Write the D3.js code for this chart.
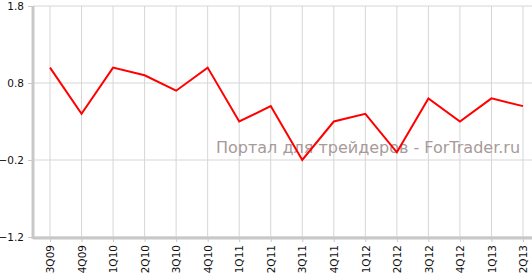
<!DOCTYPE html>
<html>
<head>
<meta charset="utf-8">
<script src="https://cdn.jsdelivr.net/npm/d3@7"></script>
<style>
  body { margin: 0; background: #fff; }
  svg { display: block; }
</style>
</head>
<body>
<div id="chart"></div>
<script>

let quarters = ["3Q09","4Q09","1Q10","2Q10","3Q10","4Q10","1Q11","2Q11","3Q11","4Q11","1Q12","2Q12","3Q12","4Q12","1Q13","2Q13"]

let values = [1.0, 0.4, 1.0, 0.9, 0.7, 1.0, 0.3, 0.5, -0.2, 0.3, 0.4, -0.1, 0.6, 0.3, 0.6, 0.5]

let y_ticks = [1.8, 0.8, -0.2, -1.2]

let watermark = "Портал для трейдеров - ForTrader.ru"

let width = 532, height = 274

let svg = d3.select("#chart").append("svg")
  .attr("width", width)
  .attr("height", height)

let x = d3.scalePoint()
  .domain(quarters)
  .range([50, 523])

let y = d3.scaleLinear()
  .domain([-1.2, 1.8])
  .range([237, 6])

// grid
svg.append("g")
  .selectAll("line")
  .data(quarters)
  .join("line")
  .attr("x1", d => x(d)).attr("x2", d => x(d))
  .attr("y1", y(1.8)).attr("y2", y(-1.2))
  .style("stroke", "#d6d6d6")
  .style("stroke-width", 1)

svg.append("g")
  .selectAll("line")
  .data(y_ticks)
  .join("line")
  .attr("x1", 33).attr("x2", width)
  .attr("y1", d => y(d)).attr("y2", d => y(d))
  .style("stroke", "#d6d6d6")
  .style("stroke-width", 1)

// watermark
svg.append("text")
  .attr("x", 216)
  .attr("y", 153)
  .style("font-family", "DejaVu Sans")
  .style("font-size", "16px")
  .style("fill", "#a79a9a")
  .text(watermark)

// axes
let y_axis = svg.append("g")
  .attr("transform", "translate(33,0)")
  .call(d3.axisLeft(y).tickValues(y_ticks).tickSize(5).tickPadding(4).tickFormat(d3.format(".1f")))

let x_axis = svg.append("g")
  .attr("transform", "translate(0," + (y(-1.2) + 1) + ")")
  .call(d3.axisBottom(x).tickSize(4).tickPadding(3))

x_axis.selectAll("text")
  .attr("transform", "rotate(-90)")
  .attr("x", -7)
  .attr("y", 0)
  .attr("dy", "0.35em")
  .style("text-anchor", "end")

svg.selectAll(".domain")
  .style("stroke", "#c8c8c8")
  .style("stroke-width", 3)

y_axis.select(".domain").attr("d", "M0," + y(1.8) + "V" + (y(-1.2) + 2))
x_axis.select(".domain").attr("d", "M33,0H" + width)

svg.selectAll(".tick line").style("stroke", "#c8c8c8")
svg.selectAll(".tick text")
  .style("font-family", "DejaVu Sans")
  .style("font-size", "10.5px")
  .style("fill", "#111")

// line
let line = d3.line()
  .x((d, i) => x(quarters[i]))
  .y(d => y(d))

svg.append("path")
  .datum(values)
  .attr("d", line)
  .style("fill", "none")
  .style("stroke", "#ff0000")
  .style("stroke-width", 2)

</script>
</body>
</html>
